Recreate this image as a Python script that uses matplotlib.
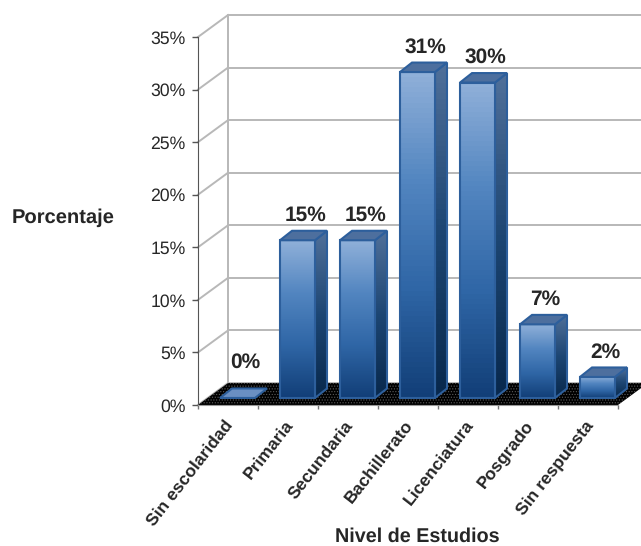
import numpy as np
import matplotlib
matplotlib.use('Agg')
import matplotlib.pyplot as plt
from matplotlib.colors import LinearSegmentedColormap
from matplotlib.patches import Polygon
from matplotlib.transforms import Affine2D

plt.rcParams['font.family'] = ['Liberation Sans', 'DejaVu Sans']
plt.rcParams['hatch.linewidth'] = 0.5
plt.rcParams['text.hinting'] = 'none'

categories = ['Sin escolaridad', 'Primaria', 'Secundaria', 'Bachillerato',
              'Licenciatura', 'Posgrado', 'Sin respuesta']
percent = [0, 15, 15, 31, 30, 7, 2]
y_ticks = [0, 5, 10, 15, 20, 25, 30, 35]

# Fake 3D depth, in axis units (categories and percent)
WALL_DX, WALL_DY = 0.5, 2.09
BAR_DX, BAR_DY = 0.2, 0.9
BASE_DX, BASE_DY = 0.367, 0.67
BAR_WIDTH = 0.583

FRONT = LinearSegmentedColormap.from_list(
    'front', ['#123f78', '#2f66a6', '#5285c0', '#8fb0d9'])
SIDE = LinearSegmentedColormap.from_list(
    'side', ['#08284c', '#1d4673', '#50709a'])


def gradient_face(ax, points, cmap, zorder):
    """Fill a polygon with a vertical gradient."""
    points = np.array(points)
    patch = Polygon(points, closed=True, fc='none', ec='none',
                    transform=ax.transData, clip_on=False)
    ax.add_patch(patch)
    grad = np.linspace(1, 0, 64).reshape(-1, 1)
    img = ax.imshow(grad, cmap=cmap, aspect='auto', zorder=zorder,
                    vmin=0, vmax=1,
                    extent=(points[:, 0].min(), points[:, 0].max(),
                            points[:, 1].min(), points[:, 1].max()))
    # the last box sticks out past the axes, so only the polygon clips it
    img.set_clip_box(ax.figure.bbox)
    img.set_clip_path(patch)


def draw_walls(ax, n):
    """Draw the floor and the gridlines of the back and side walls."""
    grid = dict(color='#b8b8b8', lw=1.4, clip_on=False, zorder=1)
    for tick in y_ticks:
        ax.plot([0, WALL_DX], [tick, tick + WALL_DY], **grid)
        ax.plot([WALL_DX, n + WALL_DX], [tick + WALL_DY, tick + WALL_DY],
                **grid)
    ax.plot([WALL_DX, WALL_DX], [WALL_DY, y_ticks[-1] + WALL_DY], **grid)
    ax.add_patch(Polygon(
        [(0, 0), (n, 0), (n + WALL_DX, WALL_DY), (WALL_DX, WALL_DY)],
        closed=True, fc='black', ec='#5a5a5a', hatch='......', lw=0,
        clip_on=False, zorder=2))


def draw_bar(ax, index, value):
    """Draw one box: side, top and front faces, with its value above."""
    x0 = index + BASE_DX
    x1 = x0 + BAR_WIDTH
    y0 = BASE_DY
    y1 = y0 + value
    z = 3 + index
    edge = dict(ec='#2d5f9c', lw=1.5, clip_on=False)

    if value > 0:
        side = [(x1, y0), (x1 + BAR_DX, y0 + BAR_DY),
                (x1 + BAR_DX, y1 + BAR_DY), (x1, y1)]
        gradient_face(ax, side, SIDE, z)
        ax.add_patch(Polygon(side, closed=True, fc='none', zorder=z, **edge))
        front = [(x0, y0), (x1, y0), (x1, y1), (x0, y1)]
        gradient_face(ax, front, FRONT, z)
        ax.add_patch(Polygon(front, closed=True, fc='none', zorder=z, **edge))

    top = [(x0, y1), (x1, y1), (x1 + BAR_DX, y1 + BAR_DY),
           (x0 + BAR_DX, y1 + BAR_DY)]
    ax.add_patch(Polygon(top, closed=True, zorder=z + 0.5,
                         fc='#4d6f9e' if value > 0 else '#6a8fc2', **edge))

    lift = 36 if value == 0 else 25
    ax.annotate(f'{value}%', (x0 + BAR_WIDTH / 2, y1), xytext=(8, lift),
                textcoords='offset pixels', ha='center', va='center',
                fontsize=15, fontweight='bold', color='#262626',
                annotation_clip=False, zorder=20)


def main():
    """Build the education level chart and save it."""
    fig = plt.figure(figsize=(6.41, 5.46), dpi=100, facecolor='white')
    ax = fig.add_axes([198 / 641, 1 - 405 / 546, 420 / 641, 368 / 546])
    n = len(categories)

    draw_walls(ax, n)
    for i, value in enumerate(percent):
        draw_bar(ax, i, value)

    ax.set_xlim(0, n)
    ax.set_ylim(0, y_ticks[-1])
    ax.patch.set_visible(False)
    for name in ('top', 'right'):
        ax.spines[name].set_visible(False)
    ax.spines['left'].set_color('#555555')
    ax.spines['bottom'].set_color('#9a9a9a')
    ax.spines['left'].set_zorder(15)
    ax.spines['bottom'].set_zorder(15)

    ax.set_yticks(y_ticks, [f'{t}%' for t in y_ticks])
    ax.tick_params(axis='y', length=4, width=1, color='#555555',
                   labelsize=12.7, labelcolor='#262626', pad=5)
    ax.set_xticks(range(n + 1), [''] * (n + 1))
    ax.tick_params(axis='x', which='major', length=3, width=1,
                   color='#777777')
    ax.set_xticks(np.arange(n) + 0.5, categories, minor=True)
    ax.tick_params(axis='x', which='minor', length=0, pad=9)
    for label in ax.get_xticklabels(minor=True):
        label.set(rotation=52, ha='right', va='top',
                  rotation_mode='anchor', fontsize=12.6, fontweight='bold',
                  color='#262626')
        # nudge the slanted labels a little to the left of the tick centre
        label.set_transform(label.get_transform() + Affine2D().translate(-4, 0))

    fig.text(63 / 641, 1 - 218 / 546, 'Porcentaje', ha='center', va='center',
             fontsize=14.5, fontweight='bold', color='#262626')
    fig.text(417 / 641, 1 - 537 / 546, 'Nivel de Estudios', ha='center',
             va='center', fontsize=14.2, fontweight='bold', color='#262626')

    fig.savefig('out.png', dpi=100)


if __name__ == "__main__":
    main()
